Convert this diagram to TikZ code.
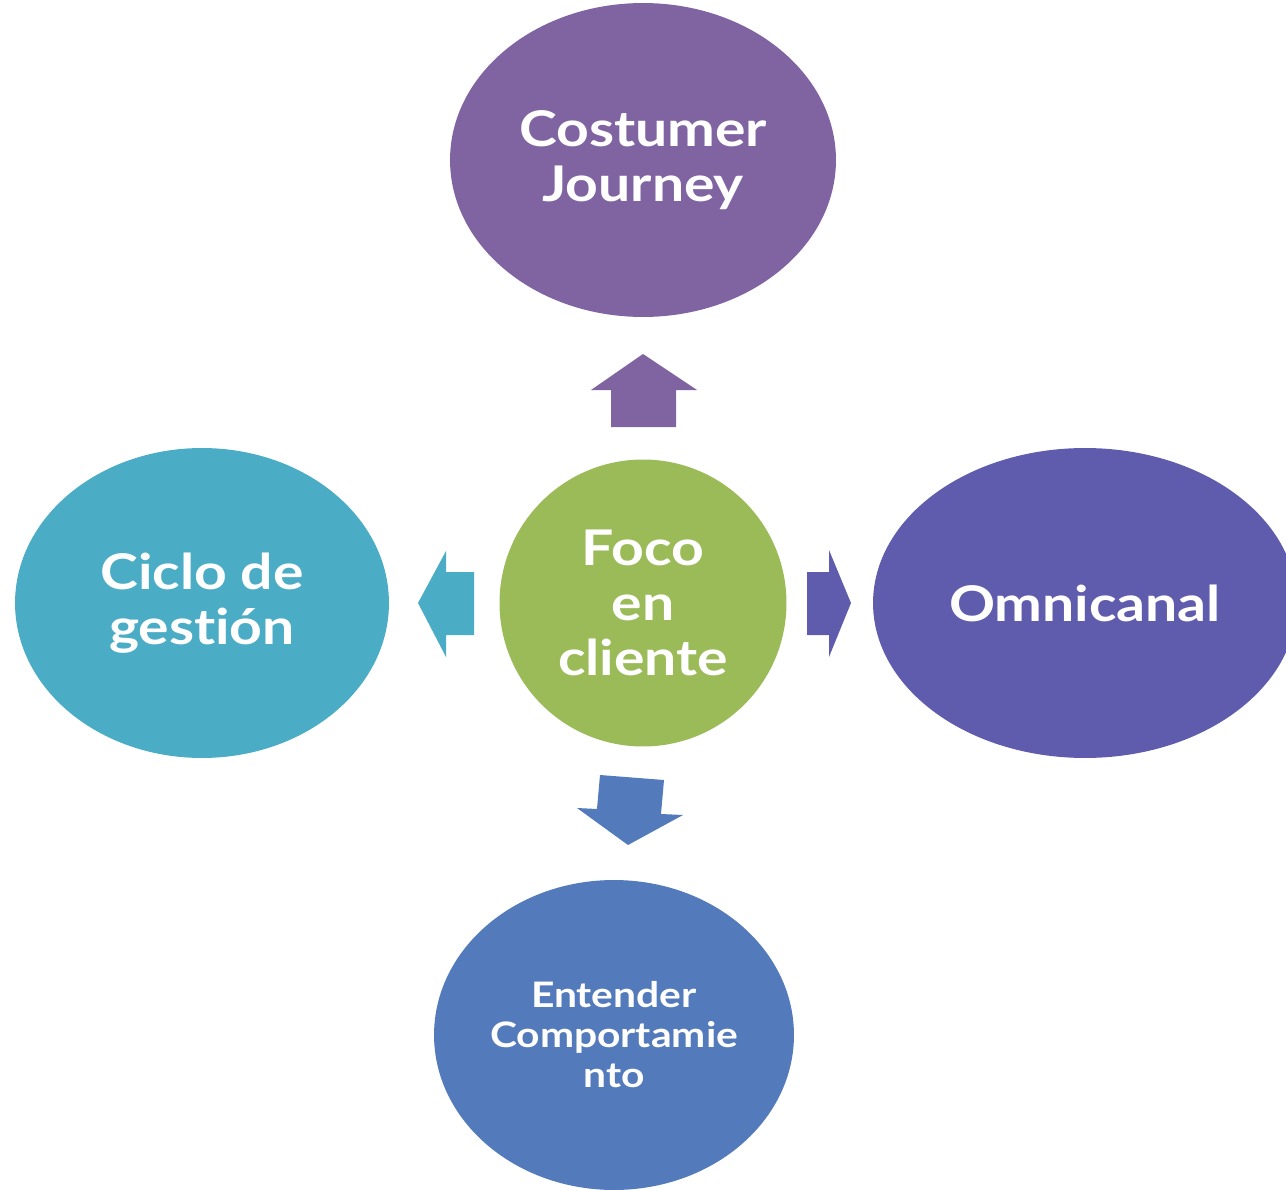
\documentclass[tikz,border=0pt]{standalone}
\usepackage{fontspec}
\setmainfont{Lato}[Ligatures=NoCommon, FakeStretch=1.16]
\usetikzlibrary{shapes.geometric}

\definecolor{journeyc}{HTML}{8064A2}
\definecolor{cicloc}{HTML}{4BACC6}
\definecolor{omnic}{HTML}{5F5CAE}
\definecolor{entenderc}{HTML}{537ABB}
\definecolor{fococ}{HTML}{9BBB59}

\begin{document}
\begin{tikzpicture}[x=0.02cm, y=-0.02cm,
    bubble/.style={ellipse, inner sep=0pt, text=white, align=center,
        font=\fontsize{28}{31.3}\selectfont\bfseries},
    blockarrow/.style={draw=none}]
    \clip (0,0) rectangle (1286,1190);

    % Centro
    \node[bubble, circle, fill=fococ, minimum size=5.74cm] (foco) at (643,603) {Foco\\en\\cliente};

    % Elipses alrededor
    \node[bubble, fill=journeyc, minimum width=7.72cm, minimum height=6.28cm] (journey) at (643,160) {Costumer\\Journey};
    \node[bubble, fill=cicloc, minimum width=7.48cm, minimum height=6.2cm] (ciclo) at (202,603) {Ciclo de\\gestión};
    \node[bubble, fill=omnic, minimum width=8.48cm, minimum height=6.2cm] (omni) at (1085,603) {Omnicanal};
    \node[bubble, fill=entenderc, minimum width=7.2cm, minimum height=6.2cm,
        font=\fontsize{20}{22.8}\selectfont\bfseries] (entender) at (614,1035) {Entender\\Comportamie\\nto};

    % Flechas
    \fill[journeyc] (611,427) -- (611,390) -- (591,390) -- (643,354) -- (697,390) -- (676,390) -- (676,427) -- cycle;
    \fill[cicloc] (474,572) -- (446,572) -- (446,551) -- (418,603) -- (446,657) -- (446,635) -- (474,635) -- cycle;
    \fill[omnic] (807,572) -- (829,572) -- (829,550) -- (851,603) -- (829,657) -- (829,635) -- (807,635) -- cycle;
    \fill[entenderc] (600,775) -- (664,780) -- (661,814) -- (683,815) -- (628,845) -- (577,808) -- (597,809) -- cycle;
\end{tikzpicture}
\end{document}
